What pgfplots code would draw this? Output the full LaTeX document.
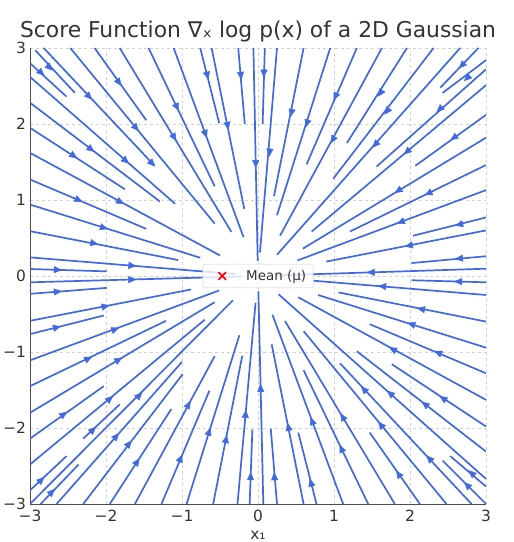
\documentclass[border=0pt]{standalone}
\usepackage{fontspec}
\setmainfont{DejaVu Sans}
\usepackage{pgfplots}
\pgfplotsset{compat=1.18}
\usetikzlibrary{arrows.meta}
\definecolor{royalblue}{RGB}{65,105,225}

\pgfplotstableread{
x y xe ye
-2.93 2.97 -2.41 2.41
-3 2.80 -2.52 2.36
-2.82 3 -1.36 1.45
-2.47 3 -0.57 0.69
-2.15 3 -1.47 2.05
-1.82 3 -0.35 0.58
-1.44 3 -0.57 1.18
-1.11 3 -0.19 0.51
-0.76 3 -0.51 2.01
-0.61 3 -0.18 0.88
-0.26 3 -0.174 2.0
-0.06 3 -0.004 0.2
-3 2.62 -1.09 0.95
-3 2.28 -1.29 0.98
-3 1.95 -1.75 1.14
-3 1.62 -0.5 0.27
-3 1.27 -1.47 0.62
-3 0.94 -0.76 0.24
-3 0.59 -1.05 0.21
-3 0.245 -0.3 0.025
-3 0.092 -1.99 0.061
-3 -0.083 -0.2 -0.006
0.09 3 0.061 2.0
0.25 3 0.026 0.31
0.60 3 0.21 1.05
0.95 3 0.25 0.80
1.30 3 0.64 1.47
1.63 3 0.29 0.53
1.96 3 1.17 1.75
2.31 3 0.99 1.28
2.66 3 0.25 0.28
2.90 3 2.40 2.48
3 2.84 2.43 2.41
3 2.72 1.56 1.44
3 2.51 0.706 0.585
3 2.12 2.07 1.45
3 1.82 0.59 0.36
3 1.46 1.21 0.585
3 1.13 0.52 0.205
3 0.77 2.04 0.53
3 0.60 0.90 0.19
3 0.26 2.02 0.17
3 0.096 0.25 0.008
3 -0.083 2.02 -0.056
3 -0.25 0.73 -0.062
3 -0.60 1.06 -0.216
3 -0.943 0.79 -0.25
3 -1.28 1.47 -0.634
3 -1.63 0.53 -0.28
3 -1.98 1.76 -1.16
3 -2.31 1.30 -0.99
3 -2.67 0.27 -0.24
3 -3 2.43 -2.43
3 -2.77 2.53 -2.37
2.81 -3 1.08 -1.15
2.48 -3 0.60 -0.726
2.13 -3 1.47 -2.06
1.80 -3 0.355 -0.592
1.45 -3 0.60 -1.24
1.12 -3 0.19 -0.51
0.77 -3 0.53 -2.06
0.60 -3 0.18 -0.90
0.25 -3 0.168 -2.01
0.07 -3 0.005 -0.2
-3 -0.235 -1.99 -0.156
-3 -0.59 -0.88 -0.177
-3 -0.765 -2.03 -0.52
-3 -1.11 -0.51 -0.19
-3 -1.45 -1.21 -0.59
-3 -1.80 -0.57 -0.345
-3 -2.14 -2.03 -1.45
-3 -2.48 -0.70 -0.575
-3 -2.82 -2.52 -2.37
-2.30 -2.14 -1.82 -1.69
-3 -3 -0.33 -0.32
-2.86 -3 -2.36 -2.48
-2.65 -3 -1.0 -1.13
-2.30 -3 -0.99 -1.29
-1.95 -3 -1.14 -1.75
-1.62 -3 -0.57 -1.055
-1.27 -3 -0.64 -1.51
-0.94 -3 -0.245 -0.78
-0.59 -3 -0.207 -1.05
-0.27 -3 -0.032 -0.35
-0.11 -3 -0.074 -2.02
}\streamlines

\pgfplotstableread{
x y
-2.78 2.78
-2.89 2.71
-2.26 2.40
-1.43 1.52
-1.64 1.99
-1.86 2.59
-1.13 1.87
-1.09 2.27
-0.71 1.92
-0.68 2.69
-0.41 2.03
-0.23 2.69
-0.031 1.53
-1.78 1.55
-2.24 1.70
-2.47 1.61
-1.86 1.00
-2.41 1.02
-2.08 0.65
-2.21 0.44
-1.71 0.14
-2.69 0.083
-1.71 -0.047
0.079 2.72
0.158 1.68
0.45 2.20
0.66 2.06
1.04 2.41
1.01 1.84
1.64 2.45
1.73 2.21
1.58 1.77
2.72 2.81
2.79 2.64
2.43 2.23
2.0 1.67
2.62 1.85
1.89 1.15
2.29 1.11
1.93 0.73
2.70 0.69
2.04 0.41
2.70 0.235
1.54 0.05
2.69 -0.074
1.69 -0.14
2.20 -0.445
2.07 -0.65
2.42 -1.03
1.82 -0.99
2.48 -1.64
2.24 -1.72
1.78 -1.58
2.79 -2.79
2.85 -2.63
2.29 -2.44
1.43 -1.53
1.65 -2.0
1.88 -2.65
1.14 -1.90
1.12 -2.32
0.73 -1.96
0.71 -2.77
0.41 -2.04
0.22 -2.69
0.036 -1.53
-2.69 -0.21
-2.06 -0.41
-2.70 -0.69
-1.93 -0.72
-2.28 -1.11
-1.88 -1.13
-2.60 -1.85
-1.99 -1.65
-2.89 -2.72
-2.21 -2.06
-1.60 -1.61
-2.75 -2.88
-1.90 -2.15
-1.73 -2.25
-1.62 -2.49
-0.94 -1.74
-1.04 -2.45
-0.66 -2.10
-0.43 -2.20
-0.168 -1.87
-0.099 -2.69
}\arrowpts

\begin{document}
\begin{tikzpicture}
\begin{axis}[
  at={(0,0)}, anchor=south west,
  width=456bp, height=456bp, scale only axis,
  xmin=-3, xmax=3, ymin=-3, ymax=3,
  xtick={-3,-2,-1,0,1,2,3}, ytick={-3,-2,-1,0,1,2,3},
  xticklabels={−3,−2,−1,0,1,2,3}, yticklabels={−3,−2,−1,0,1,2,3},
  major tick length=0pt,
  axis x line*=bottom, axis y line*=left,
  axis line style={black!70, line width=0.9bp, -},
  grid=major, grid style={dashed, black!18, line width=0.6bp},
  tick label style={font=\fontsize{15.5}{18}\selectfont, text=black!80},
  xticklabel style={yshift=-3bp},
  yticklabel style={xshift=-0.5bp},
  title={Score Function ∇ₓ log p(x) of a 2D Gaussian},
  title style={at={(axis description cs:0.5,1)}, anchor=base, yshift=5bp, font=\fontsize{21.9}{25}\selectfont, text=black!80},
  xlabel={x₁},
  xlabel style={at={(axis description cs:0.5,0)}, anchor=base, yshift=-35.5bp, font=\fontsize{15.5}{18}\selectfont, text=black!80},
  legend style={at={(0.5,0.5)}, anchor=center, fill=white, fill opacity=0.8, text opacity=1,
    draw=black!20, rounded corners=2.5bp, inner xsep=5bp, inner ysep=4bp,
    font=\fontsize{13.5}{16}\selectfont, text=black!80},
]
% streamline segments: from the border point (x,y) to the end point (xe,ye)
\addplot[forget plot, mark=none,
  quiver={u=\thisrow{xe}-\thisrow{x}, v=\thisrow{ye}-\thisrow{y},
          every arrow/.append style={draw=royalblue, line width=1.7bp, -}}]
  table {\streamlines};
% arrow heads on the streamlines, pointing toward the mean
\addplot[forget plot, mark=none,
  quiver={u={-0.11*\thisrow{x}/veclen(\thisrow{x},\thisrow{y})},
          v={-0.11*\thisrow{y}/veclen(\thisrow{x},\thisrow{y})},
          every arrow/.append style={draw=royalblue, fill=royalblue, line width=0.5bp, -{Triangle[length=8bp,width=7bp]}}}]
  table {\arrowpts};
\addlegendimage{legend image code/.code={
  \path (0bp,0bp) (36bp,0bp);
  \draw[red, line width=1.6bp] (10.5bp,-3.8bp) -- (18bp,3.8bp) (10.5bp,3.8bp) -- (18bp,-3.8bp);}}
\addlegendentry{Mean (μ)}
\end{axis}
\pgfresetboundingbox
\path[use as bounding box] (-30bp,-38bp) rectangle (484bp,504bp);
\end{tikzpicture}
\end{document}
